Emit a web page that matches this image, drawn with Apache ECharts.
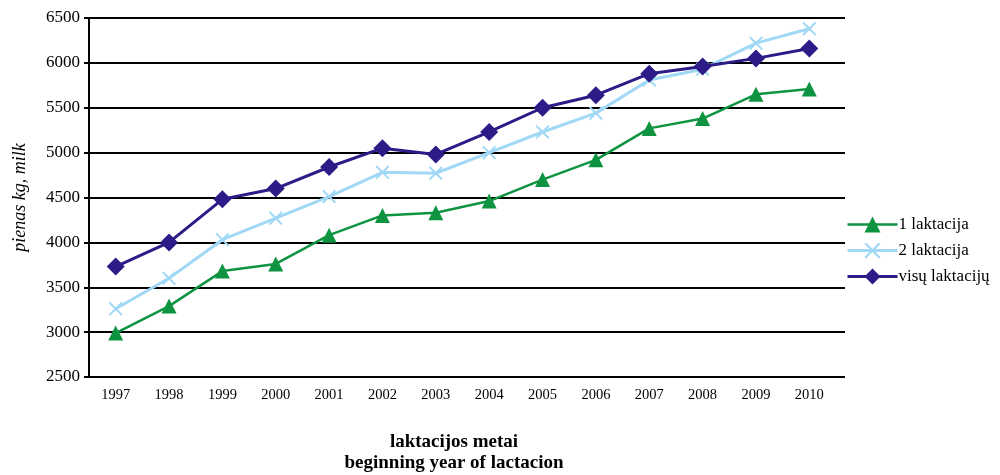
<!DOCTYPE html>
<html><head><meta charset="utf-8">
<script src="https://cdn.jsdelivr.net/npm/echarts@6/dist/echarts.min.js"></script>
<style>html,body{margin:0;padding:0;background:#fff}#c{width:1000px;height:475px}</style>
</head><body><div id="c"></div>
<script>
const years = ['1997','1998','1999','2000','2001','2002','2003','2004','2005','2006','2007','2008','2009','2010'];
const laktacija1 = [2990,3290,3680,3760,4080,4300,4330,4460,4700,4920,5270,5380,5650,5710];
const laktacija2 = [3260,3600,4030,4270,4510,4780,4770,5000,5230,5440,5810,5930,6220,6380];
const visu = [3730,4000,4480,4600,4840,5050,4980,5230,5500,5640,5880,5960,6050,6160];
const seriesNames = ['1 laktacija','2 laktacija','visų laktacijų'];
const yTitle = 'pienas kg, milk';
const xTitle = ['laktacijos metai','beginning year of lactacion'];

const serif = '"Liberation Serif","DejaVu Serif",serif';
const crossPath = 'path://M0,1L1,0L5,4L9,0L10,1L6,5L10,9L9,10L5,6L1,10L0,9L4,5Z';
const colors = ['#0e9440','#a0d8f6','#2c1c87'];
const chart = echarts.init(document.getElementById('c'));
chart.setOption({
  animation: false,
  grid: [
    {left: 89, right: 155, top: 18, bottom: 98},
    {left: 89, right: 164, top: 18, bottom: 98}
  ],
  xAxis: [
    {gridIndex: 0, type: 'category', data: years, show: false},
    {gridIndex: 1, type: 'category', data: years, boundaryGap: true,
     axisLine: {show: false}, axisTick: {show: false},
     axisLabel: {color: '#000', fontFamily: serif, fontSize: 14.5, margin: 11}}
  ],
  yAxis: [
    {gridIndex: 0, type: 'value', min: 2500, max: 6500, interval: 500,
     axisLine: {show: true, lineStyle: {color: '#000', width: 2}},
     axisTick: {show: true, length: 5, lineStyle: {color: '#000', width: 2}},
     axisLabel: {color: '#000', fontFamily: serif, fontSize: 17, margin: 9,
                 formatter: function (v) { return String(v); }},
     splitLine: {show: true, lineStyle: {color: '#000', width: 2}},
     name: yTitle, nameLocation: 'middle', nameRotate: 90, nameGap: 60,
     nameTextStyle: {color: '#000', fontFamily: serif, fontSize: 18, fontStyle: 'italic'}},
    {gridIndex: 1, type: 'value', min: 2500, max: 6500, interval: 500, show: false,
     splitLine: {show: false}}
  ],
  legend: {
    orient: 'vertical', left: 841, top: 211, itemWidth: 50, itemHeight: 20, itemGap: 9,
    textStyle: {color: '#000', fontFamily: serif, fontSize: 17, padding: [0,0,0,-4]},
    data: seriesNames.map((n, i) => ({name: n, lineStyle: {width: i === 0 ? 2.5 : 3, color: colors[i]}}))
  },
  series: [
    {name: seriesNames[0], type: 'line', xAxisIndex: 1, yAxisIndex: 1, data: laktacija1,
     symbol: 'triangle', symbolSize: 15, color: colors[0],
     lineStyle: {width: 2.5, color: colors[0]}, itemStyle: {color: colors[0]}},
    {name: seriesNames[1], type: 'line', xAxisIndex: 1, yAxisIndex: 1, data: laktacija2,
     symbol: crossPath, symbolSize: 14, color: colors[1],
     lineStyle: {width: 3, color: colors[1]}, itemStyle: {color: colors[1]}},
    {name: seriesNames[2], type: 'line', xAxisIndex: 1, yAxisIndex: 1, data: visu,
     symbol: 'diamond', symbolSize: 18, color: colors[2],
     lineStyle: {width: 3, color: colors[2]}, itemStyle: {color: colors[2]}}
  ],
  graphic: [
    {type: 'text', style: {text: xTitle[0], x: 454, y: 433, textAlign: 'center', fill: '#000', font: 'bold 19px ' + serif}},
    {type: 'text', style: {text: xTitle[1], x: 454, y: 454, textAlign: 'center', fill: '#000', font: 'bold 19px ' + serif}}
  ]
});
</script></body></html>
